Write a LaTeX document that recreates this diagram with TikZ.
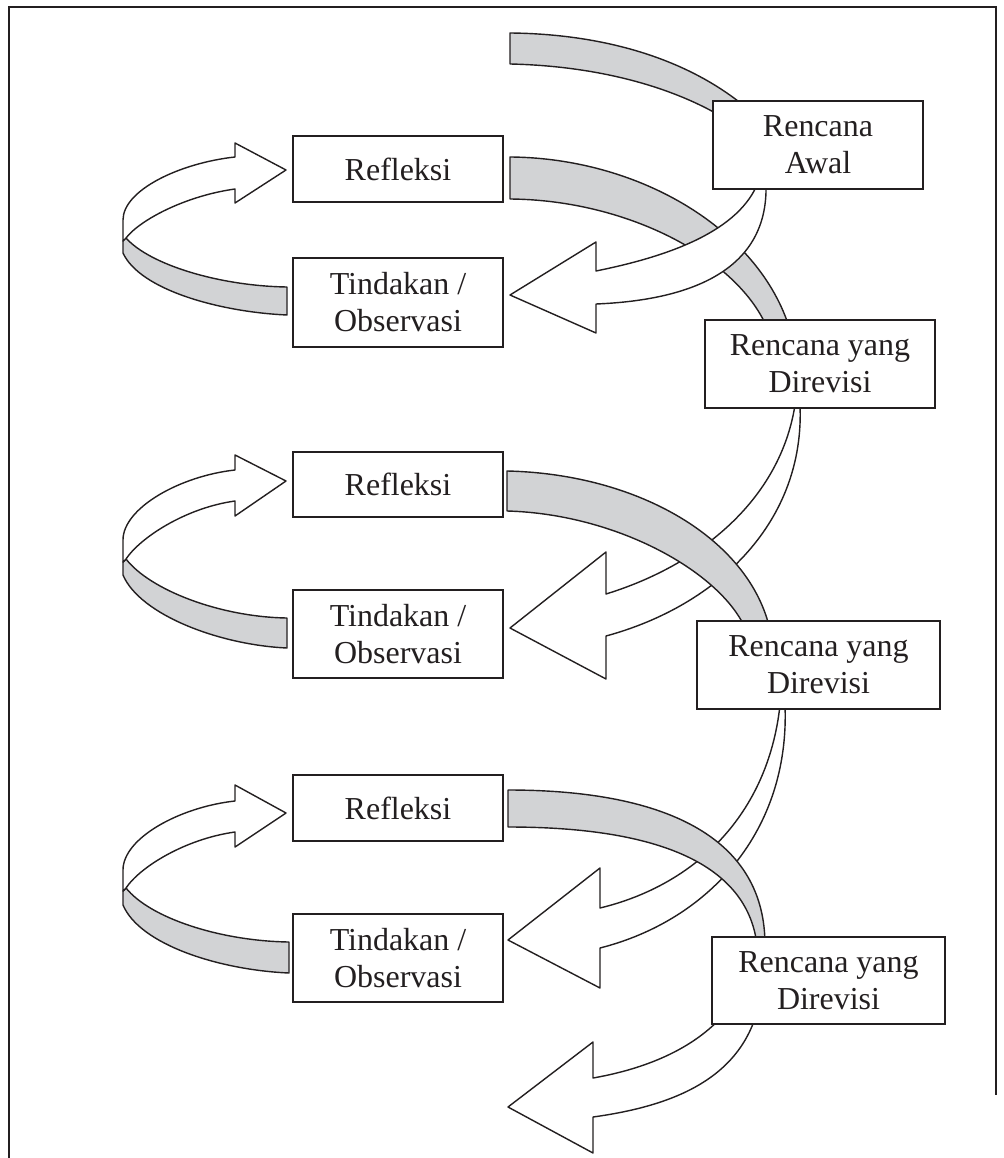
\documentclass[tikz,border=0pt]{standalone}
\usepackage{fontspec}
\setmainfont{Liberation Serif}
\usepackage{tikz}

\definecolor{ribbon}{RGB}{210,211,213}
\definecolor{ink}{RGB}{35,31,32}

\begin{document}
\begin{tikzpicture}[x=0.02cm, y=-0.02cm,
  box/.style={draw=ink, fill=white, text=ink, line width=1pt, align=center, inner sep=0pt, font=\fontsize{18.2}{21}\selectfont},
  back/.style={draw=ink, fill=ribbon, line width=0.8pt, line join=round},
  front/.style={draw=ink, fill=white, line width=0.8pt, line join=round}]
\useasboundingbox (0,0) rectangle (1003,1158);
\draw[ink, line width=1.6pt] (9,1158) -- (9,7) -- (996,7) -- (996,1095); % frame
% left loops: Tindakan -> Refleksi
\draw[back] (126,238) .. controls (150,265) and (220,286) .. (287,287) -- (287,315) .. controls (220,312) and (140,290) .. (123,253) -- (123,241) -- cycle;
\draw[front] (235,143) -- (286,170) -- (235,203) -- (235,189) .. controls (185,196) and (140,220) .. (126,238) -- (123,241) -- (123,220) .. controls (123,190) and (180,163) .. (235,157) -- cycle;
\draw[back] (126,559) .. controls (150,590) and (220,617) .. (287,618) -- (287,648) .. controls (220,645) and (140,615) .. (123,575) -- (123,562) -- cycle;
\draw[front] (235,455) -- (286,481) -- (235,516) -- (235,501) .. controls (185,508) and (140,538) .. (126,559) -- (123,562) -- (123,540) .. controls (123,508) and (180,476) .. (235,470) -- cycle;
\draw[back] (126,888) .. controls (150,918) and (220,941) .. (289,942) -- (289,973) .. controls (220,970) and (140,945) .. (123,905) -- (123,891) -- cycle;
\draw[front] (235,785) -- (286,813) -- (235,847) -- (235,832) .. controls (185,839) and (140,867) .. (126,888) -- (123,891) -- (123,870) .. controls (123,838) and (180,807) .. (235,801) -- cycle;
% right side: Refleksi -> Rencana (gray), Rencana -> Tindakan (white)
\draw[back] (510,33) .. controls (610,34) and (700,62) .. (760,120) -- (735,125) .. controls (680,88) and (600,66) .. (510,64) -- cycle;
\draw[back] (510,157) .. controls (640,158) and (760,230) .. (790,330) -- (768,330) .. controls (740,260) and (630,200) .. (510,199) -- cycle;
\draw[front] (757,185) .. controls (735,235) and (660,258) .. (596,271) -- (596,242) -- (510,295) -- (596,333) -- (596,304) .. controls (695,300) and (768,268) .. (766,185) -- cycle;
\draw[front] (795,405) .. controls (780,500) and (700,565) .. (606,594) -- (606,552) -- (510,628) -- (606,679) -- (606,636) .. controls (720,605) and (805,520) .. (800,405) -- cycle;
\draw[back] (507,471) .. controls (640,474) and (750,540) .. (770,630) -- (746,630) .. controls (722,573) and (618,514) .. (507,511) -- cycle;
\draw[front] (780,705) .. controls (768,815) and (695,885) .. (600,908) -- (600,868) -- (508,940) -- (600,988) -- (600,948) .. controls (710,920) and (790,830) .. (785,705) -- cycle;
\draw[back] (508,790) .. controls (670,790) and (765,840) .. (765,945) -- (757,945) .. controls (748,870) and (670,827) .. (508,827) -- cycle;
\draw[front] (735,1000) .. controls (705,1045) and (650,1068) .. (593,1078) -- (593,1042) -- (508,1107) -- (593,1153) -- (593,1117) .. controls (680,1105) and (745,1075) .. (760,1000) -- cycle;
% boxes
\node[box, minimum width=4.2cm, minimum height=1.76cm] (awal) at (818,145) {Rencana\\Awal};
\node[box, minimum width=4.2cm, minimum height=1.32cm] (refl1) at (398,169) {Refleksi};
\node[box, minimum width=4.2cm, minimum height=1.78cm] (tind1) at (398,302.5) {Tindakan /\\Observasi};
\node[box, minimum width=4.6cm, minimum height=1.76cm] (revisi1) at (820,364) {Rencana yang\\Direvisi};
\node[box, minimum width=4.2cm, minimum height=1.30cm] (refl2) at (398,484.5) {Refleksi};
\node[box, minimum width=4.2cm, minimum height=1.76cm] (tind2) at (398,634) {Tindakan /\\Observasi};
\node[box, minimum width=4.86cm, minimum height=1.76cm] (revisi2) at (818.5,665) {Rencana yang\\Direvisi};
\node[box, minimum width=4.2cm, minimum height=1.32cm] (refl3) at (398,808) {Refleksi};
\node[box, minimum width=4.2cm, minimum height=1.76cm] (tind3) at (398,958) {Tindakan /\\Observasi};
\node[box, minimum width=4.66cm, minimum height=1.74cm] (revisi3) at (828.5,980.5) {Rencana yang\\Direvisi};
\end{tikzpicture}
\end{document}
